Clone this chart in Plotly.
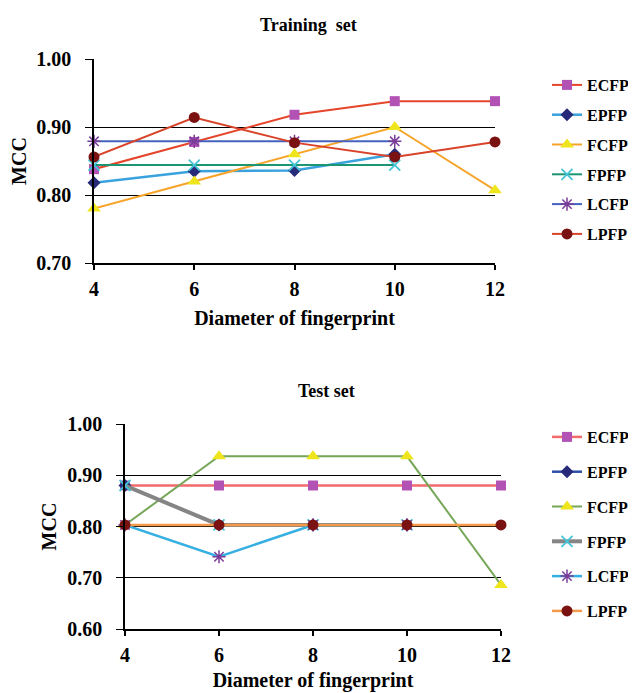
import plotly.graph_objects as go

diameters = [4, 6, 8, 10, 12]
series_names = ["ECFP", "EPFP", "FCFP", "FPFP", "LCFP", "LPFP"]

# Training set MCC values
train_ecfp = [0.838, 0.878, 0.918, 0.938, 0.938]
train_epfp = [0.818, 0.835, 0.836, 0.860, None]
train_fcfp = [0.780, 0.820, 0.860, 0.900, 0.807]
train_fpfp = [0.844, 0.844, 0.844, 0.844, None]
train_lcfp = [0.879, 0.879, 0.879, 0.879, None]
train_lpfp = [0.856, 0.914, 0.877, 0.856, 0.878]

# Test set MCC values
test_ecfp = [0.880, 0.880, 0.880, 0.880, 0.880]
test_epfp = [0.880, 0.803, 0.803, 0.803, None]
test_fcfp = [0.803, 0.937, 0.937, 0.937, 0.686]
test_fpfp = [0.880, 0.803, 0.803, 0.803, None]
test_lcfp = [0.803, 0.741, 0.803, 0.803, None]
test_lpfp = [0.803, 0.803, 0.803, 0.803, 0.803]

y_ticks_train = [0.70, 0.80, 0.90, 1.00]
y_ticks_test = [0.60, 0.70, 0.80, 0.90, 1.00]

FONT = "Liberation Serif, Times New Roman, Times, serif"

markers = {
    "ECFP": dict(symbol="square", color="#B352B5", size=10),
    "EPFP": dict(symbol="diamond", color="#262A78", size=10),
    "FCFP": dict(symbol="triangle-up", color="#EFE51C", size=12),
    "FPFP": dict(symbol="x-thin-open", color="#45C4D6", size=11, line=dict(width=1.8, color="#45C4D6")),
    "LCFP": dict(symbol="asterisk-open", color="#7B3C98", size=11, line=dict(width=1.5, color="#7B3C98")),
    "LPFP": dict(symbol="circle", color="#7A1212", size=11),
}

train_lines = {"ECFP": ("#E5452B", 2), "EPFP": ("#3AA2DC", 2.5), "FCFP": ("#F6A42A", 2),
               "FPFP": ("#1C9572", 2), "LCFP": ("#4563BE", 2), "LPFP": ("#D8432A", 2)}
test_lines = {"ECFP": ("#F26A6A", 2.5), "EPFP": ("#2C4EA6", 2.5), "FCFP": ("#76A759", 2),
              "FPFP": ("#858585", 4), "LCFP": ("#36B0E2", 2.5), "LPFP": ("#F59A4A", 2.5)}

train_vals = dict(zip(series_names, [train_ecfp, train_epfp, train_fcfp, train_fpfp, train_lcfp, train_lpfp]))
test_vals = dict(zip(series_names, [test_ecfp, test_epfp, test_fcfp, test_fpfp, test_lcfp, test_lpfp]))

fig = go.Figure()

for name in series_names:
    c, w = train_lines[name]
    fig.add_trace(go.Scatter(
        x=diameters, y=train_vals[name], name=name, mode="lines+markers",
        line=dict(color=c, width=w), marker=markers[name], cliponaxis=False,
        xaxis="x", yaxis="y", legend="legend", legendgroup="tr" + name,
    ))

for name in series_names:
    c, w = test_lines[name]
    fig.add_trace(go.Scatter(
        x=diameters, y=test_vals[name], name=name, mode="lines+markers",
        line=dict(color=c, width=w), marker=markers[name], cliponaxis=False,
        xaxis="x2", yaxis="y2", legend="legend2", legendgroup="te" + name,
    ))

# the page adds an 8px body margin; the figure fills the rest of the window
OFF = 8
W, H = 636 - OFF, 693 - OFF

def px_x(p):
    return (p - OFF) / W

def px_y(p):
    return 1 - (p - OFF) / H

tickfont = dict(family=FONT, size=20, color="black", weight="bold")
titlefont = dict(family=FONT, size=20, color="black", weight="bold")

xcommon = dict(range=[4, 12], tickvals=diameters, showgrid=False, zeroline=False,
               showline=True, linecolor="black", linewidth=1.5, ticks="outside",
               ticklen=5, tickcolor="black", tickwidth=1.5, tickfont=tickfont,
               ticklabelstandoff=2, automargin=False)
ycommon = dict(showgrid=True, gridcolor="black", gridwidth=1.2, zeroline=False,
               showline=True, linecolor="black", linewidth=1.5, ticks="outside",
               ticklen=7, tickcolor="black", tickwidth=1.2, tickfont=tickfont,
               tickformat=".2f", ticklabelstandoff=10, automargin=False)

legend_common = dict(font=dict(family=FONT, size=16, color="black", weight="bold"),
                     bgcolor="rgba(0,0,0,0)", xanchor="left", yanchor="top",
                     itemwidth=30)

fig.update_layout(
    width=W, height=H, margin=dict(l=0, r=0, t=0, b=0, autoexpand=False),
    paper_bgcolor="white", plot_bgcolor="white", showlegend=True,
    xaxis=dict(domain=[px_x(94), px_x(495)], anchor="y",
               title=dict(text="Diameter of fingerprint", font=titlefont, standoff=12), **xcommon),
    yaxis=dict(domain=[px_y(263), px_y(59)], anchor="x", range=[0.70, 1.00], tickvals=y_ticks_train,
               title=dict(text="MCC", font=titlefont, standoff=5), **ycommon),
    xaxis2=dict(domain=[px_x(125), px_x(501)], anchor="y2",
                title=dict(text="Diameter of fingerprint", font=titlefont, standoff=8), **xcommon),
    yaxis2=dict(domain=[px_y(629), px_y(424)], anchor="x2", range=[0.60, 1.00], tickvals=y_ticks_test,
                title=dict(text="MCC", font=titlefont, standoff=5), **ycommon),
    legend=dict(x=px_x(547), y=px_y(68), tracegroupgap=6, **legend_common),
    legend2=dict(x=px_x(547), y=px_y(420), tracegroupgap=11, **legend_common),
    annotations=[
        dict(text="Training&nbsp; set", x=px_x(308), y=px_y(25), xref="paper", yref="paper",
             showarrow=False, xanchor="center", yanchor="middle",
             font=dict(family=FONT, size=18, color="black", weight="bold")),
        dict(text="Test set", x=px_x(326), y=px_y(391), xref="paper", yref="paper",
             showarrow=False, xanchor="center", yanchor="middle",
             font=dict(family=FONT, size=18, color="black", weight="bold")),
    ],
)

fig.write_html("out.html")
